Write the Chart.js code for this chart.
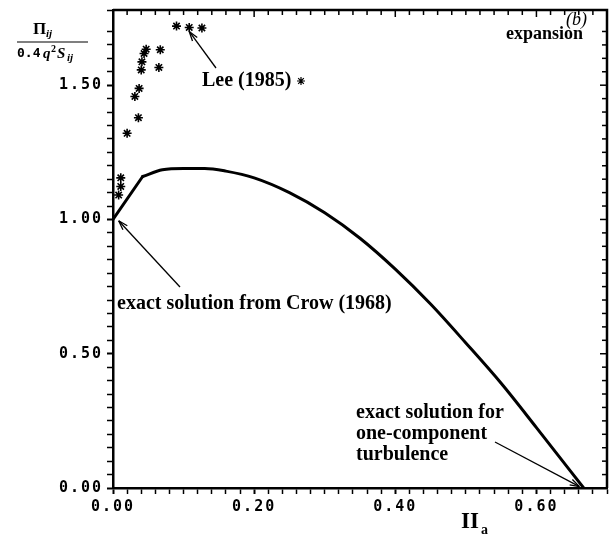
<!DOCTYPE html>
<html lang="en">
<head>
<meta charset="UTF-8">
<title>Pressure-strain, expansion</title>
<script src="https://cdn.jsdelivr.net/npm/chart.js"></script>
<style>
  body { margin: 0; background: #fff; }
</style>
</head>
<body>
<canvas id="chart" width="616" height="537"></canvas>
<script>
// model curve (solid line); the first two points form the straight start
const curveX = [0, 0.042, 0.07, 0.10, 0.13, 0.16, 0.20, 0.25, 0.30, 0.35, 0.40, 0.45, 0.50, 0.55, 0.60, 0.667];
const curveY = [1.0, 1.16, 1.185, 1.19, 1.19, 1.18, 1.155, 1.10, 1.025, 0.93, 0.815, 0.685, 0.54, 0.39, 0.225, 0];

// Lee (1985) points
const leeX = [0.090, 0.108, 0.126, 0.047, 0.067, 0.044, 0.041, 0.065, 0.040, 0.037, 0.031, 0.036, 0.020, 0.011, 0.011, 0.008];
const leeY = [1.720, 1.715, 1.713, 1.634, 1.632, 1.618, 1.587, 1.566, 1.557, 1.488, 1.458, 1.379, 1.321, 1.155, 1.123, 1.091];

const xTickLabels = ['0.00', '0.20', '0.40', '0.60'];
const yTickLabels = ['0.00', '0.50', '1.00', '1.50'];

function majorLabel(v, step, labels) {
    const k = Math.round(v / step);
    if (Math.abs(v / step - k) < 1e-6 && k < labels.length) return labels[k];
    return '';
}

function pts(xs, ys) {
    return xs.map((x, i) => ({ x: x, y: ys[i] }));
}

const tickFont = { family: '"DejaVu Sans Mono"', size: 15, weight: 'bold' };
const serif = '"Liberation Serif", "Times New Roman", serif';

function text(ctx, s, x, y, font, align) {
    ctx.font = font;
    ctx.textAlign = align || 'left';
    ctx.textBaseline = 'middle';
    ctx.fillText(s, x, y);
}

function arrow(ctx, x1, y1, x2, y2) {
    const a = Math.atan2(y2 - y1, x2 - x1);
    ctx.beginPath();
    ctx.moveTo(x1, y1);
    ctx.lineTo(x2, y2);
    ctx.lineWidth = 1.3;
    ctx.stroke();
    ctx.beginPath();
    ctx.moveTo(x2, y2);
    ctx.lineTo(x2 - 10 * Math.cos(a - 0.3), y2 - 10 * Math.sin(a - 0.3));
    ctx.moveTo(x2, y2);
    ctx.lineTo(x2 - 10 * Math.cos(a + 0.3), y2 - 10 * Math.sin(a + 0.3));
    ctx.stroke();
}

const frame = {
    id: 'frame',
    beforeDraw(chart) {
        chart.ctx.letterSpacing = '2px';
    },
    afterDraw(chart) {
        const ctx = chart.ctx;
        const a = chart.chartArea;
        const xs = chart.scales.x, ys = chart.scales.y;
        ctx.save();
        ctx.letterSpacing = '0px';
        ctx.strokeStyle = '#000';
        ctx.fillStyle = '#000';

        // top and right borders with inward ticks
        ctx.lineWidth = 2.5;
        ctx.beginPath();
        ctx.moveTo(a.left, a.top);
        ctx.lineTo(a.right, a.top);
        ctx.lineTo(a.right, a.bottom);
        ctx.stroke();
        ctx.lineWidth = 1.5;
        xs.ticks.forEach(t => {
            const px = xs.getPixelForValue(t.value);
            const len = majorLabel(t.value, 0.2, xTickLabels) ? 7 : 5;
            ctx.beginPath();
            ctx.moveTo(px, a.top);
            ctx.lineTo(px, a.top + len);
            ctx.stroke();
        });
        ys.ticks.forEach(t => {
            const py = ys.getPixelForValue(t.value);
            const len = majorLabel(t.value, 0.5, yTickLabels) ? 7 : 5;
            ctx.beginPath();
            ctx.moveTo(a.right, py);
            ctx.lineTo(a.right - len, py);
            ctx.stroke();
        });

        // y axis title as a fraction
        text(ctx, 'Π', 33, 30, 'bold 17px ' + serif);
        text(ctx, 'ij', 46, 34, 'italic bold 11px ' + serif);
        ctx.lineWidth = 1.2;
        ctx.beginPath();
        ctx.moveTo(17, 42);
        ctx.lineTo(88, 42);
        ctx.stroke();
        text(ctx, '0.4', 17, 54, 'bold 13px "DejaVu Sans Mono"');
        text(ctx, 'q', 43, 54, 'italic bold 15px ' + serif);
        text(ctx, '2', 51, 49, 'bold 10px ' + serif);
        text(ctx, 'S', 57, 54, 'italic bold 15px ' + serif);
        text(ctx, 'ij', 67, 58, 'italic bold 11px ' + serif);

        // x axis title
        text(ctx, 'II', 461, 522, 'bold 23px ' + serif);
        text(ctx, 'a', 481, 530, 'bold 14px ' + serif);

        // panel labels
        text(ctx, '(b)', 587, 20, 'italic 18px ' + serif, 'right');
        text(ctx, 'expansion', 583, 34, 'bold 18px ' + serif, 'right');

        // Lee label with marker
        text(ctx, 'Lee (1985)', 202, 81, 'bold 20px ' + serif);
        Chart.helpers.drawPoint(ctx, { pointStyle: 'star', radius: 4, borderWidth: 1.5 }, 301, 81);
        arrow(ctx, 216, 68, xs.getPixelForValue(0.108), ys.getPixelForValue(1.70));

        // Crow annotation
        text(ctx, 'exact solution from Crow (1968)', 117, 304, 'bold 20px ' + serif);
        arrow(ctx, 180, 287, xs.getPixelForValue(0.008), ys.getPixelForValue(0.995));

        // one-component annotation
        text(ctx, 'exact solution for', 356, 413, 'bold 20px ' + serif);
        text(ctx, 'one-component', 356, 434, 'bold 20px ' + serif);
        text(ctx, 'turbulence', 356, 455, 'bold 20px ' + serif);
        arrow(ctx, 495, 442, xs.getPixelForValue(0.661), ys.getPixelForValue(0.005));
        ctx.restore();
    }
};

const ctx = document.getElementById('chart').getContext('2d');
new Chart(ctx, {
    data: {
        datasets: [{
            type: 'scatter',
            data: pts(leeX, leeY),
            pointStyle: 'star',
            pointRadius: 4.5,
            borderColor: '#000',
            backgroundColor: '#000',
            borderWidth: 1.6
        }, {
            // straight rise to the kink
            type: 'line',
            data: pts(curveX.slice(0, 2), curveY.slice(0, 2)),
            borderColor: '#000',
            borderWidth: 3,
            borderCapStyle: 'round',
            pointRadius: 0,
            fill: false
        }, {
            type: 'line',
            data: pts(curveX.slice(1), curveY.slice(1)),
            borderColor: '#000',
            borderWidth: 3,
            borderCapStyle: 'round',
            pointRadius: 0,
            cubicInterpolationMode: 'monotone',
            fill: false
        }]
    },
    options: {
        responsive: false,
        animation: false,
        layout: { padding: { top: 10, right: 9, left: 0, bottom: 0 } },
        plugins: { legend: { display: false }, tooltip: { enabled: false } },
        scales: {
            x: {
                type: 'linear',
                min: 0,
                max: 0.7,
                afterFit: s => { s.height = 49; s.paddingLeft = 0; s.paddingRight = 0; },
                ticks: {
                    stepSize: 0.02,
                    autoSkip: false,
                    maxRotation: 0,
                    padding: 4,
                    color: '#000',
                    font: tickFont,
                    callback: v => majorLabel(v, 0.2, xTickLabels)
                },
                grid: {
                    drawOnChartArea: false,
                    tickLength: 6,
                    tickColor: '#000',
                    tickWidth: c => majorLabel(c.tick.value, 0.2, xTickLabels) ? 2 : 1.5
                },
                border: { color: '#000', width: 2.5 }
            },
            y: {
                type: 'linear',
                min: 0,
                max: 1.78,
                afterFit: s => { s.width = 113; s.paddingTop = 0; s.paddingBottom = 0; },
                ticks: {
                    stepSize: 0.05,
                    autoSkip: false,
                    padding: 4,
                    color: '#000',
                    font: tickFont,
                    callback: v => majorLabel(v, 0.5, yTickLabels)
                },
                grid: {
                    drawOnChartArea: false,
                    tickLength: 6,
                    tickColor: '#000',
                    tickWidth: c => majorLabel(c.tick.value, 0.5, yTickLabels) ? 2 : 1.5
                },
                border: { color: '#000', width: 2.5 }
            }
        }
    },
    plugins: [frame]
});
</script>
</body>
</html>
